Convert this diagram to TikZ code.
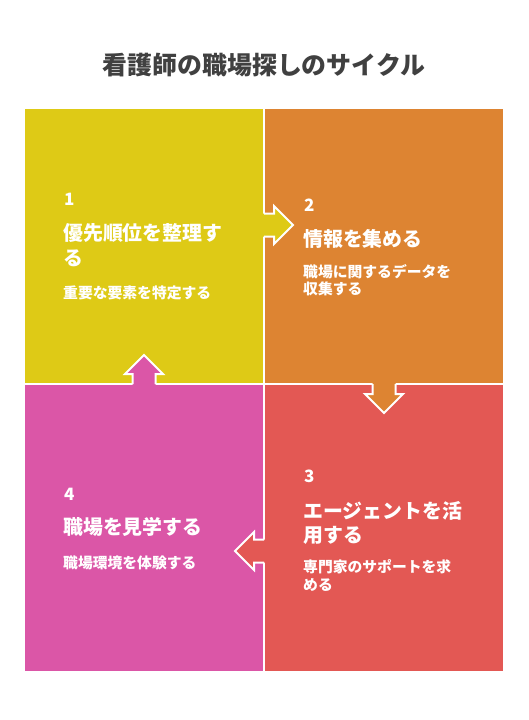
\documentclass[tikz,border=0pt]{standalone}
\usepackage{fontspec}
\setmainfont{Noto Sans CJK JP}
\definecolor{cyel}{HTML}{DECA16}
\definecolor{cora}{HTML}{DD8432}
\definecolor{cred}{HTML}{E35854}
\definecolor{cpink}{HTML}{DB56A7}
\definecolor{ctitle}{HTML}{404040}
\tikzset{
  panel/.style={draw=none, inner sep=0pt, minimum width=238pt},
  num/.style={anchor=west, inner sep=0pt, text=white, font=\bfseries\fontsize{17}{20}\selectfont},
  stitle/.style={anchor=west, inner sep=0pt, text=white, font=\bfseries\fontsize{19.9}{24}\selectfont},
  ssub/.style={anchor=west, inner sep=0pt, text=white, font=\bfseries\fontsize{14.8}{17}\selectfont},
  outline/.style={draw=white, line width=2pt, line join=miter}
}
\begin{document}
\begin{tikzpicture}[x=1pt, y=-1pt]
\useasboundingbox (0,0) rectangle (528,720);
\fill[white] (0,0) rectangle (528,720);
% title
\node[text=ctitle, font=\bfseries\fontsize{24.9}{28}\selectfont, inner sep=0pt] (title) at (264,65) {看護師の職場探しのサイクル};
% panels
\node[panel, fill=cyel, minimum height=274pt] (p1) at (144,246) {};
\node[panel, fill=cora, minimum height=274pt] (p2) at (384,246) {};
\node[panel, fill=cred, minimum height=286pt] (p3) at (384,528) {};
\node[panel, fill=cpink, minimum height=286pt] (p4) at (144,528) {};
% arrow 1 -> 2 (right)
\fill[cyel] (262,213.5) -- (274,213.5) -- (274,206) -- (293,225) -- (274,244) -- (274,236.5) -- (262,236.5) -- cycle;
\draw[outline] (264,213.5) -- (274,213.5) -- (274,206) -- (293,225) -- (274,244) -- (274,236.5) -- (264,236.5);
% arrow 2 -> 3 (down)
\fill[cora] (372.5,382) -- (372.5,394) -- (365,394) -- (384,413) -- (403,394) -- (395.5,394) -- (395.5,382) -- cycle;
\draw[outline] (372.5,384) -- (372.5,394) -- (365,394) -- (384,413) -- (403,394) -- (395.5,394) -- (395.5,384);
% arrow 3 -> 4 (left)
\fill[cred] (266,539.5) -- (254,539.5) -- (254,532) -- (235,551) -- (254,570) -- (254,562.5) -- (266,562.5) -- cycle;
\draw[outline] (264,539.5) -- (254,539.5) -- (254,532) -- (235,551) -- (254,570) -- (254,562.5) -- (264,562.5);
% arrow 4 -> 1 (up)
\fill[cpink] (132.5,386) -- (132.5,374) -- (125,374) -- (144,355) -- (163,374) -- (155.5,374) -- (155.5,386) -- cycle;
\draw[outline] (132.5,384) -- (132.5,374) -- (125,374) -- (144,355) -- (163,374) -- (155.5,374) -- (155.5,384);
% panel 1 text
\node[num] (n1) at (64,199) {1};
\node[stitle] (t1a) at (63,233) {優先順位を整理す};
\node[stitle] (t1b) at (63,258) {る};
\node[ssub] (s1) at (63,293) {重要な要素を特定する};
% panel 2 text
\node[num] (n2) at (304,205) {2};
\node[stitle] (t2) at (303,239) {情報を集める};
\node[ssub] (s2a) at (303,272) {職場に関するデータを};
\node[ssub] (s2b) at (303,289) {収集する};
% panel 3 text
\node[num] (n3) at (304,476) {3};
\node[stitle] (t3a) at (303,511) {エージェントを活};
\node[stitle] (t3b) at (303,535) {用する};
\node[ssub] (s3a) at (303,567) {専門家のサポートを求};
\node[ssub] (s3b) at (303,585) {める};
% panel 4 text
\node[num] (n4) at (64,494) {4};
\node[stitle] (t4) at (63,527) {職場を見学する};
\node[ssub] (s4) at (63,563) {職場環境を体験する};
\end{tikzpicture}
\end{document}
